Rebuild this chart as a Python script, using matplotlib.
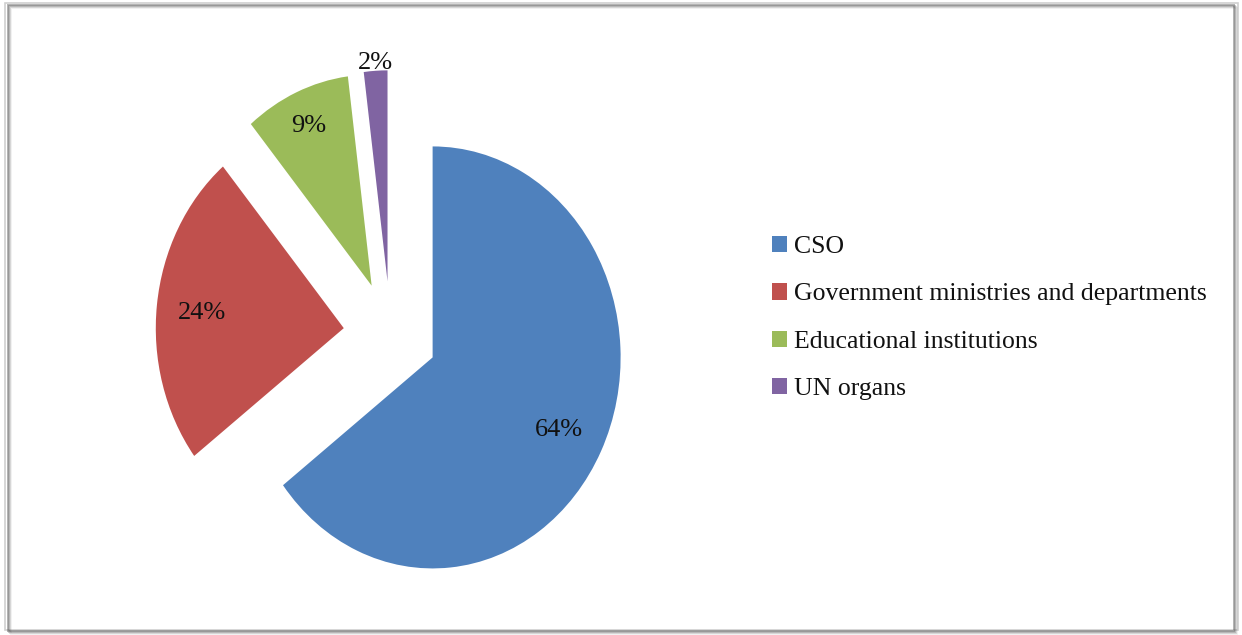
import matplotlib.pyplot as plt
import numpy as np
from matplotlib.patches import Rectangle

labels = ['CSO', 'Government ministries and departments',
          'Educational institutions', 'UN organs']
shares = [64, 24, 9, 2]
colors = ['#4F81BD', '#C0504D', '#9BBB59', '#8064A2']
label_dist = [0.75, 0.76, 0.84, 1.05]

W, H = 1242, 635
fig = plt.figure(figsize=(W / 100, H / 100), dpi=100)
fig.patch.set_facecolor('white')

# pie centre and radii in pixels (the chart is slightly squeezed sideways)
cx, cy, rx, ry = 390.5, 334.0, 188.0, 211.0
ax = fig.add_axes([0, 0, 1, 1])
wedges, _ = ax.pie(shares, colors=colors, startangle=90, counterclock=False,
                   explode=[0.25] * 4, radius=1.0,
                   wedgeprops=dict(linewidth=0))
ax.set_aspect('auto')
ax.set_xlim(-cx / rx, (W - cx) / rx)
ax.set_ylim((cy - H) / ry, cy / ry)
ax.axis('off')

serif = 'Liberation Serif'
for w, v, d in zip(wedges, shares, label_dist):
    mid = np.deg2rad((w.theta1 + w.theta2) / 2)
    x = w.center[0] + d * np.cos(mid)
    y = w.center[1] + d * np.sin(mid)
    ax.text(x, y, f'{v}%', ha='center', va='center_baseline', family=serif,
            fontsize=19, color='#111111')

leg = ax.legend(wedges, labels, loc='center left',
                bbox_to_anchor=(772 / W, 1 - 318 / H),
                bbox_transform=fig.transFigure, frameon=False,
                prop=dict(family=serif, size=18.5),
                handlelength=0.6, handleheight=0.6, handletextpad=0.25,
                labelspacing=0.98, borderpad=0, borderaxespad=0)
for t in leg.get_texts():
    t.set_color('#111111')

# outer frame with a soft drop shadow on the right and bottom
for i, a in enumerate([0.45, 0.3, 0.18, 0.08]):
    fig.patches.append(Rectangle(((8 + i) / W, (H - 631 - i) / H),
                                 (1234 - 8) / W, (631 - 5) / H,
                                 transform=fig.transFigure,
                                 facecolor='none', edgecolor='#555555',
                                 alpha=a, linewidth=1.4))
fig.patches.append(Rectangle((5 / W, (H - 630) / H), (1238 - 5) / W,
                             (630 - 3) / H, transform=fig.transFigure,
                             facecolor='white', edgecolor='#d0d0d0',
                             linewidth=1.2, zorder=-1))

fig.savefig('out.png', dpi=100)
